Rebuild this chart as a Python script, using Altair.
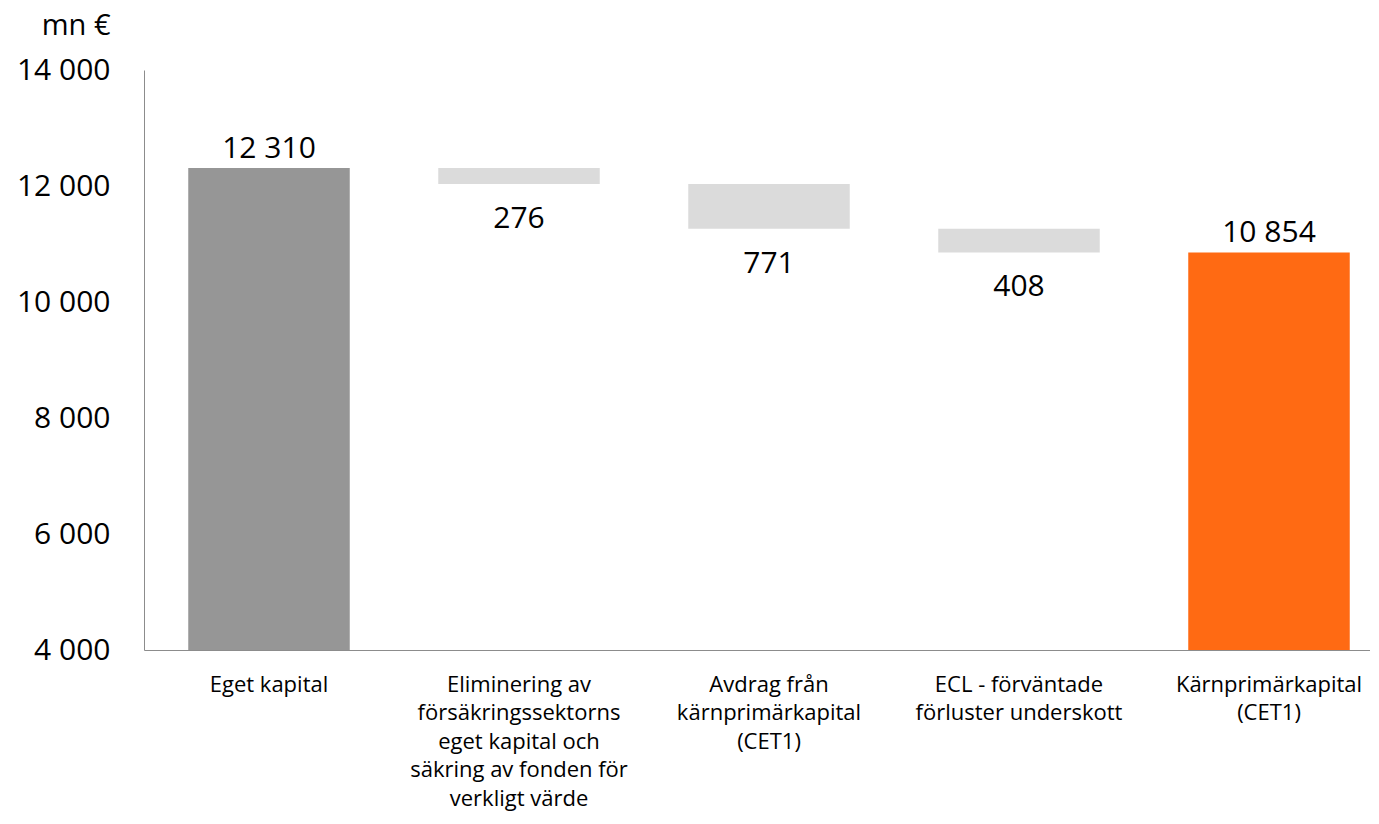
import altair as alt
import pandas as pd

categories = [
    "Eget kapital",
    "Eliminering av\nförsäkringssektorns\neget kapital och\nsäkring av fonden för\nverkligt värde",
    "Avdrag från\nkärnprimärkapital\n(CET1)",
    "ECL - förväntade\nförluster underskott",
    "Kärnprimärkapital\n(CET1)",
]
values = [12310, -276, -771, -408, 10854]
kinds = ["start", "decrease", "decrease", "decrease", "end"]
y_ticks = [4000, 6000, 8000, 10000, 12000, 14000]

starts, ends = [], []
running = 0
for v, k in zip(values, kinds):
    if k == "decrease":
        starts.append(running)
        running += v
        ends.append(running)
    else:
        starts.append(4000)
        ends.append(v)
        running = v

df = pd.DataFrame({
    "cat": categories,
    "value": values,
    "kind": kinds,
    "start": starts,
    "end": ends,
})
df["label"] = [f"{abs(v):,}".replace(",", " ") for v in values]
df["low"] = df[["start", "end"]].min(axis=1)
df["high"] = df[["start", "end"]].max(axis=1)

FONT = "Open Sans"

x = alt.X(
    "cat:N",
    sort=categories,
    title=None,
    scale=alt.Scale(range=[0, 1250], paddingInner=0.354, paddingOuter=0.177),
    axis=alt.Axis(
        labelAngle=0,
        labelExpr="split(datum.label, '\\n')",
        labelFont=FONT,
        labelFontSize=22,
        labelColor="#000000",
        labelLineHeight=28.5,
        labelBaseline="alphabetic",
        labelPadding=41,
        ticks=False,
        domainColor="#8c8c8c",
        domainWidth=1,
        labelLimit=400,
    ),
)

base = alt.Chart(df)

bars = base.mark_bar().encode(
    x=x,
    y=alt.Y(
        "low:Q",
        scale=alt.Scale(domain=[4000, 14000], nice=False),
        title="mn €",
        axis=alt.Axis(
            values=y_ticks,
            grid=False,
            ticks=False,
            labelExpr="replace(format(datum.value, ','), ',', ' ')",
            labelFont=FONT,
            labelFontSize=30,
            labelColor="#000000",
            labelPadding=34,
            domainColor="#8c8c8c",
            domainWidth=1,
            titleFont=FONT,
            titleFontSize=29,
            titleFontWeight="normal",
            titleColor="#000000",
            titleAngle=0,
            titleAlign="right",
            titleBaseline="alphabetic",
            titleX=-34,
            titleY=-36,
        ),
    ),
    y2="high:Q",
    color=alt.Color(
        "kind:N",
        scale=alt.Scale(domain=["start", "decrease", "end"],
                        range=["#969696", "#DBDBDB", "#FF6A13"]),
        legend=None,
    ),
)

top_labels = base.transform_filter("datum.kind != 'decrease'").mark_text(
    font=FONT, fontSize=30, color="#000000", baseline="alphabetic", dy=-10
).encode(x=x, y="high:Q", text="label:N")

bottom_labels = base.transform_filter("datum.kind == 'decrease'").mark_text(
    font=FONT, fontSize=30, color="#000000", baseline="alphabetic", dy=44
).encode(x=x, y="low:Q", text="label:N")

chart = (
    alt.layer(bars, top_labels, bottom_labels)
    .properties(
        width=1226,
        height=580,
        background="#ffffff",
        autosize=alt.AutoSizeParams(type="none"),
        padding={"left": 136, "top": 62, "right": 0, "bottom": 165},
    )
    .configure_view(strokeWidth=0, stroke="transparent")
)

chart.save("out.html", embed_options={"renderer": "svg", "actions": False})
